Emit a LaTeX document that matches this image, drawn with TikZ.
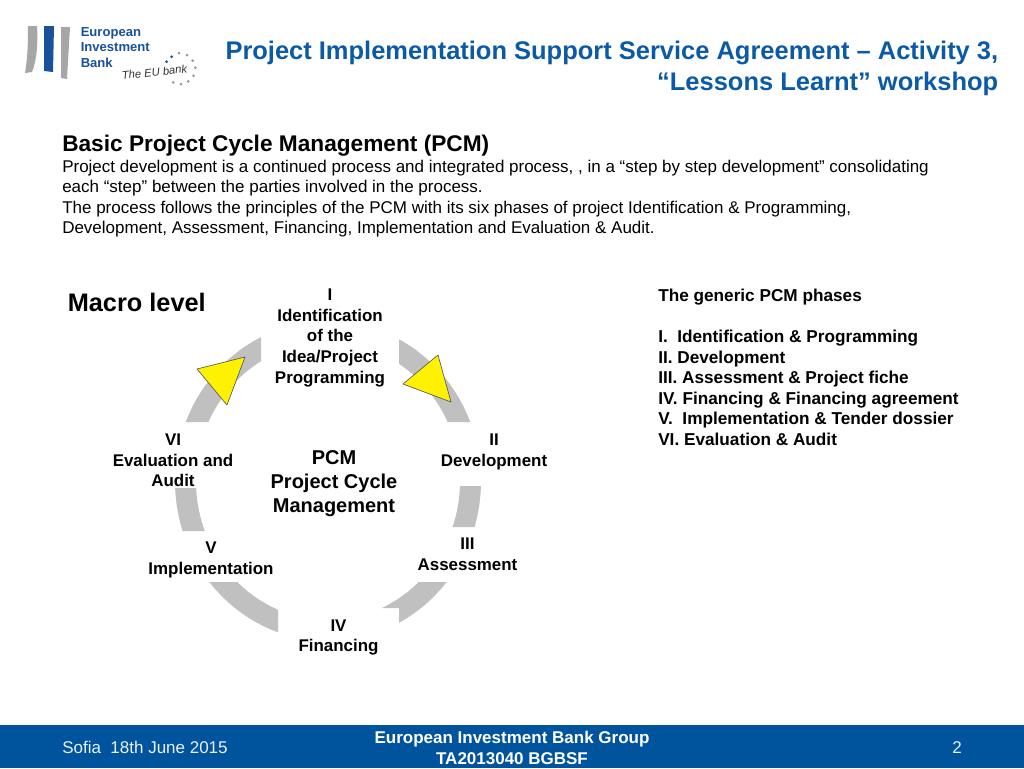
\documentclass[tikz,border=0pt]{standalone}
\usepackage{fontspec}
\setmainfont{Liberation Sans}
\usetikzlibrary{shapes.geometric}
\definecolor{eibblue}{HTML}{00549E}
\definecolor{titleblue}{HTML}{0B5AA5}
\definecolor{ringgrey}{HTML}{C0C0C0}
\definecolor{logogrey}{HTML}{A6A6A6}
\definecolor{logoblue}{HTML}{17529B}
\newcommand{\fs}[2]{\fontsize{#1pt}{#2pt}\selectfont}
\tikzset{
  x=0.75pt,y=-0.75pt,
  lbl/.style={inner sep=0pt,align=center,font=\bfseries\fs{12.7}{15.4}},
  tri/.style={fill=yellow,draw=black!65,line width=0.5pt,line join=round},
}
\begin{document}
\begin{tikzpicture}
\useasboundingbox (0,0) rectangle (1024,768);
% logo
\fill[logogrey] (28,26) -- (37,26) .. controls (38,42) and (37,60) .. (32,72) -- (25,73) .. controls (28,55) and (28,40) .. (28,26) -- cycle;
\fill[logoblue] (44,26) -- (54,26) -- (53,72) -- (44,71) -- cycle;
\fill[logogrey] (61,27) -- (70,27) -- (67,79) -- (61,78) -- cycle;
\node[inner sep=0pt,anchor=north west,align=left,text=logoblue,font=\bfseries\fs{9.8}{11.7}] (eibname) at (80.5,27) {European\\Investment\\Bank};
\node[inner sep=0pt,rotate=6,font=\itshape\fs{8.4}{10},text=black!80] (eutag) at (154.5,72) {The EU bank};
\foreach \px/\py/\c in {179/53/black!40,187/55/black!40,192.7/60.7/black!40,195.3/67.7/black!40,193.7/75.7/black!40,188.3/81.3/black!40,181/84/black!40,173.3/82.3/black!40,171.7/56.7/logoblue,166.7/61.7/logoblue}
  \fill[\c] (\px,\py) circle (1.5);
% title
\node[inner sep=0pt,anchor=base east,text=titleblue,font=\bfseries\fs{19.1}{23}] (title) at (998.5,59.5) {Project Implementation Support Service Agreement – Activity 3,};
\node[inner sep=0pt,anchor=base east,text=titleblue,font=\bfseries\fs{19.1}{23}] (title2) at (998.5,90) {“Lessons Learnt” workshop};
% intro
\node[inner sep=0pt,anchor=base west,font=\bfseries\fs{17}{20}] (head) at (62,151) {Basic Project Cycle Management (PCM)};
\node[inner sep=0pt,anchor=base west,font=\fs{12.75}{15}] (l1) at (62,172) {Project development is a continued process and integrated process, , in a “step by step development” consolidating};
\node[inner sep=0pt,anchor=base west,font=\fs{12.75}{15}] (l2) at (62,192.5) {each “step” between the parties involved in the process.};
\node[inner sep=0pt,anchor=base west,font=\fs{12.75}{15}] (l3) at (62,213) {The process follows the principles of the PCM with its six phases of project Identification \& Programming,};
\node[inner sep=0pt,anchor=base west,font=\fs{12.75}{15}] (l4) at (62,233.5) {Development, Assessment, Financing, Implementation and Evaluation \& Audit.};
% macro
\node[inner sep=0pt,anchor=base west,font=\bfseries\fs{19}{22}] (macro) at (67.5,311) {Macro level};
% ring
\begin{scope}
\clip (150,320) rectangle (261,422)
      (399,320) rectangle (500,422)
      (400,486) rectangle (500,527)
      (150,488) rectangle (250,531)
      (150,582) rectangle (278,650)
      (399,582) rectangle (500,650)
      (382,582) rectangle (399,608);
\fill[ringgrey,even odd rule] (328,481) ellipse [x radius=153,y radius=160] (328,481) ellipse [x radius=132,y radius=139];
\end{scope}
\draw[tri] (245,357) -- (197,369) -- (227,405) -- cycle;
\draw[tri] (438,355) -- (403,384) -- (451,402) -- cycle;
% ring labels
\node[lbl,anchor=north] (p1) at (330,289) {I\\Identification\\of the\\Idea/Project\\Programming};
\node[lbl,anchor=north] (p2) at (494,434) {II\\Development};
\node[lbl,anchor=north] (p3) at (467.5,538) {III\\Assessment};
\node[lbl,anchor=north] (p4) at (338.5,619.5) {IV\\Financing};
\node[lbl,anchor=north] (p5) at (211,542) {V\\Implementation};
\node[lbl,anchor=north] (p6) at (173,434) {VI\\Evaluation and\\Audit};
\node[inner sep=0pt,align=center,anchor=north,font=\bfseries\fs{15}{18}] (centre) at (334,450) {PCM\\Project Cycle\\Management};
% phases
\node[inner sep=0pt,anchor=north west,align=left,font=\bfseries\fs{12.9}{15.35}] (phases) at (658,289) {The generic PCM phases\\[15.35pt]I.\ \ Identification \& Programming\\II. Development\\III. Assessment \& Project fiche\\IV. Financing \& Financing agreement\\V.\ \ Implementation \& Tender dossier\\VI. Evaluation \& Audit};
% footer
\fill[eibblue] (0,725) rectangle (1024,768);
\node[inner sep=0pt,anchor=base west,text=white!92!eibblue,font=\fs{12.75}{15}] (sofia) at (62,753) {Sofia\ \ 18th June 2015};
\node[inner sep=0pt,anchor=north,align=center,text=white,font=\bfseries\fs{12.75}{16}] (group) at (512,731) {European Investment Bank Group\\TA2013040 BGBSF};
\node[inner sep=0pt,anchor=base,text=white!92!eibblue,font=\fs{12.75}{15}] (page) at (957,753) {2};
\end{tikzpicture}
\end{document}
